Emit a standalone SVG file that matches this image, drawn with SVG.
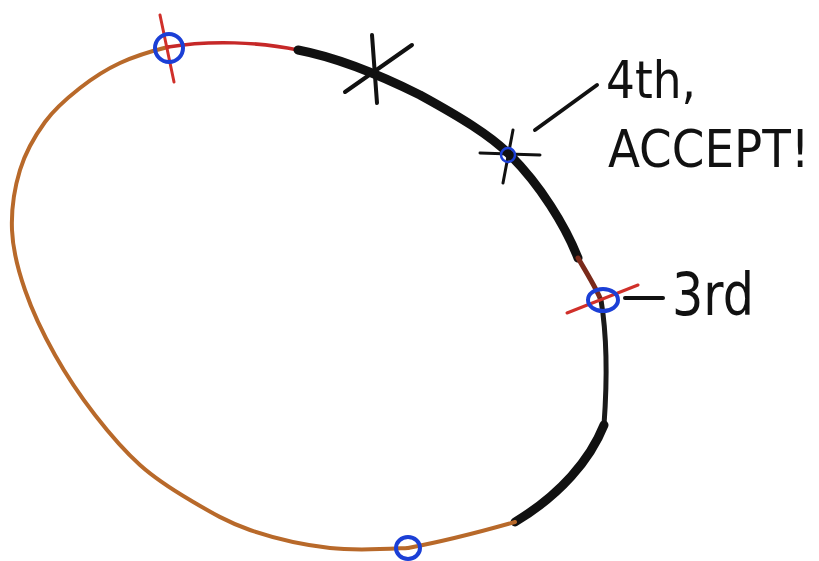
<svg xmlns="http://www.w3.org/2000/svg" width="819" height="561" viewBox="0 0 819 561">
<style>
.orange{fill:none;stroke:#b8692a;stroke-width:4;stroke-linecap:round;stroke-linejoin:round}
.red{fill:none;stroke:#c62828;stroke-width:3.5;stroke-linecap:round;stroke-linejoin:round}
.thick{fill:none;stroke:#111;stroke-width:9;stroke-linecap:round;stroke-linejoin:round}
.thin{fill:none;stroke:#1a1a1a;stroke-width:5;stroke-linecap:round;stroke-linejoin:round}
.pen{fill:none;stroke:#111;stroke-width:4;stroke-linecap:round}
.redpen{fill:none;stroke:#d0302a;stroke-width:3;stroke-linecap:round}
.blue{fill:none;stroke:#1b3fd6;stroke-width:4}
.lbl{font-family:"DejaVu Sans","Liberation Sans",sans-serif;fill:#111}
.cond{font-family:"DejaVu Sans Condensed","Liberation Sans Narrow","DejaVu Sans",sans-serif;fill:#111}
</style>
<rect width="819" height="561" fill="#fff"/>
<g id="loop">
<path class="orange" d="M408,548 C389.7,548.8 356.3,551 330,548 C303.7,545 273.3,538 250,530 C226.7,522 208.3,510.8 190,500 C171.7,489.2 155.8,479.2 140,465 C124.2,450.8 109.2,433.3 95,415 C80.8,396.7 66.7,375.8 55,355 C43.3,334.2 32.2,310.8 25,290 C17.8,269.2 12.8,250 12,230 C11.2,210 14.5,188 20,170 C25.5,152 35,135.7 45,122 C55,108.3 67.5,97.8 80,88 C92.5,78.2 105.3,69.8 120,63 C134.7,56.2 153,50.7 168,47"/>
<path class="red" d="M168,47 C210,40 260,42 298,50"/>
<path class="thick" d="M298,50 C340,58 380,75 420,95 C460,117 490,135 510,155 C540,185 565,225 578,258"/>
<path class="red" d="M578,258 C588,275 596,288 600,298" style="stroke:#7a2a1a;stroke-width:5"/>
<path class="thin" d="M601,300 C606,330 608,370 604,425"/>
<path class="thick" d="M604,425 C590,460 560,495 515,522"/>
<path class="orange" d="M515,522 C480,532 440,542 408,548"/>
</g>
<g id="point-1">
<path class="redpen" d="M160,15 L174,82"/>
<circle class="blue" cx="169" cy="48" r="14"/>
</g>
<g id="rejected-x">
<path class="pen" d="M372,35 L377,103"/>
<path class="pen" d="M345,92 L412,45"/>
</g>
<g id="point-4th">
<path class="pen" d="M480,153 L540,155" style="stroke-width:3"/>
<path class="pen" d="M513,130 L503,183" style="stroke-width:3"/>
<circle class="blue" cx="508" cy="155" r="7" style="stroke-width:2.5"/>
<path class="pen" d="M535,130 L597,85" style="stroke-width:4"/>
<text class="lbl" x="606" y="98" font-size="52" textLength="90" lengthAdjust="spacingAndGlyphs">4th,</text>
<text class="cond" x="608" y="167" font-size="52">ACCEPT!</text>
</g>
<g id="point-3rd">
<path class="redpen" d="M567,313 L638,285"/>
<ellipse class="blue" cx="603" cy="300" rx="15" ry="11"/>
<path class="pen" d="M625,298 L663,298"/>
<text class="lbl" x="672" y="315" font-size="58" textLength="82" lengthAdjust="spacingAndGlyphs">3rd</text>
</g>
<g id="point-bottom">
<ellipse class="blue" cx="408" cy="548" rx="12" ry="11"/>
</g>
</svg>
